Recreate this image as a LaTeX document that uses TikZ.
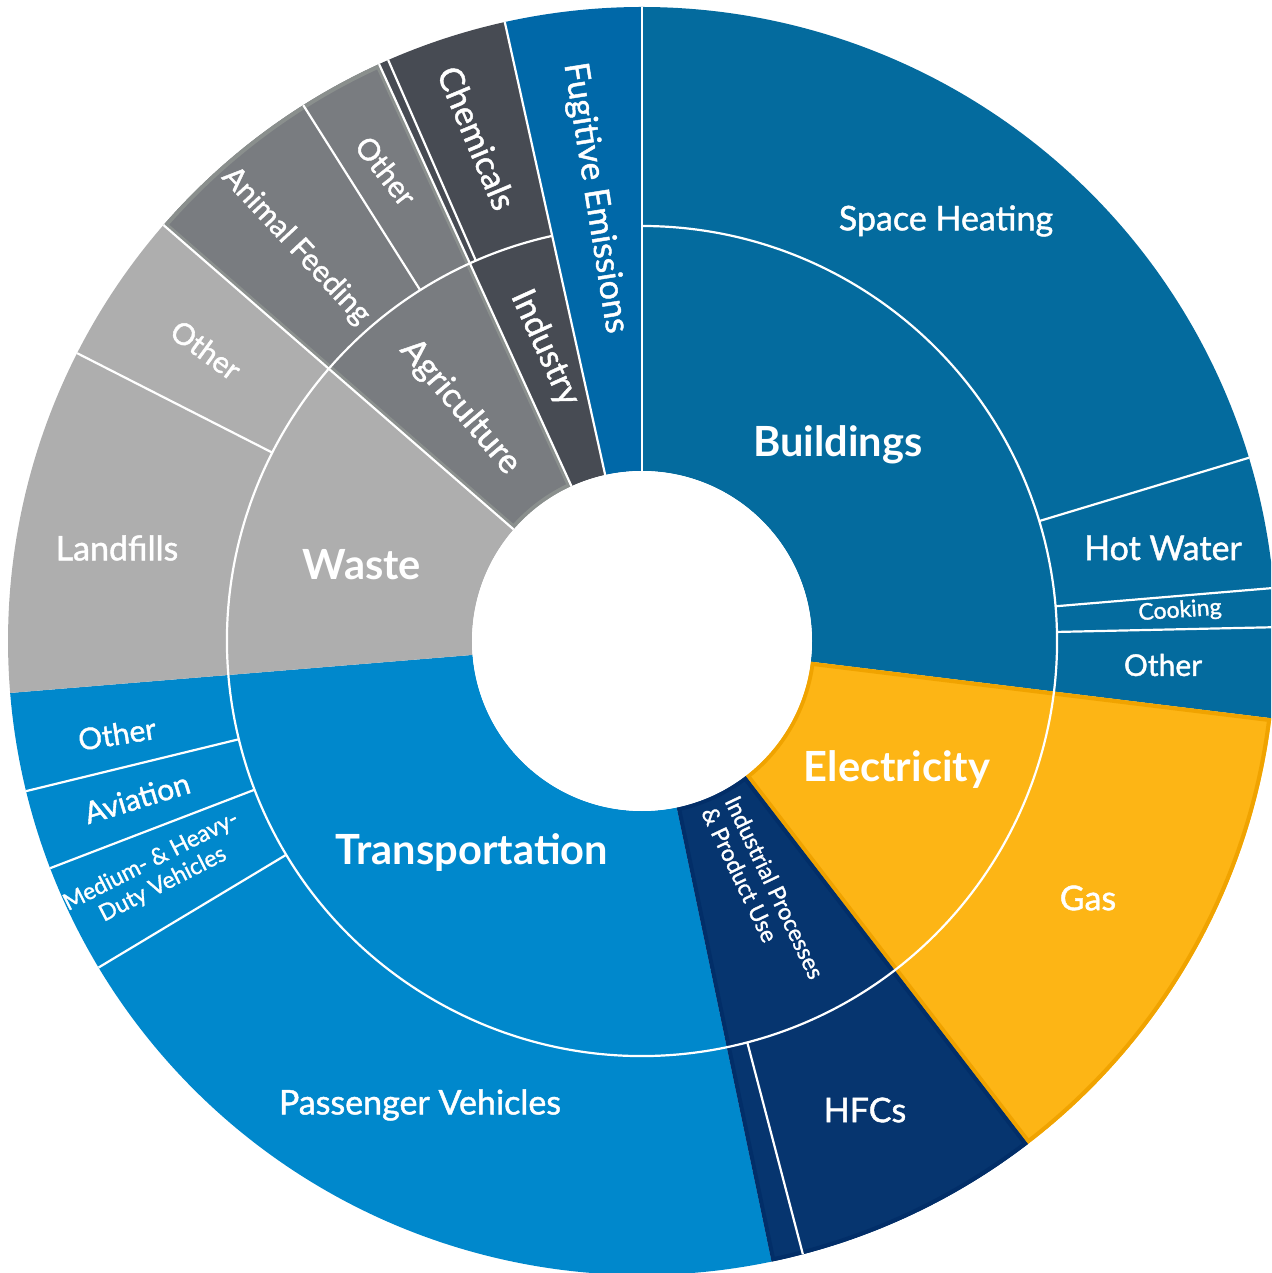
\documentclass[tikz,border=0pt]{standalone}
\usepackage{fontspec}
\setmainfont{Lato}
\newfontfamily\latomed{Lato}[FakeBold=1.3]
\definecolor{bld}{HTML}{046B9E}
\definecolor{fug}{HTML}{0068A8}
\definecolor{trans}{HTML}{0088CC}
\definecolor{elec}{HTML}{FDB515}
\definecolor{elecb}{HTML}{F0A300}
\definecolor{ippu}{HTML}{06356F}
\definecolor{ippub}{HTML}{022E68}
\definecolor{waste}{HTML}{AEAEAE}
\definecolor{agri}{HTML}{797C80}
\definecolor{agrib}{HTML}{8A8F8D}
\definecolor{indus}{HTML}{474B53}
\newcommand\wedgefill[5]{\fill[#1] (#4:#2) arc[start angle=#4,end angle=#5,radius=#2] -- (#5:#3) arc[start angle=#5,end angle=#4,radius=#3] -- cycle;}
\newcommand\wedgeband[5]{\begin{scope}\clip (#4:#2) arc[start angle=#4,end angle=#5,radius=#2] -- (#5:#3) arc[start angle=#5,end angle=#4,radius=#3] -- cycle;
\draw[#1,line width=4pt] (#4:#2) arc[start angle=#4,end angle=#5,radius=#2] -- (#5:#3) arc[start angle=#5,end angle=#4,radius=#3] -- cycle;\end{scope}}
\begin{document}
\begin{tikzpicture}[x=0.5pt,y=0.5pt,
  sep/.style={white,line width=1.1pt},
  lbl/.style={text=white,inner sep=0pt},
  big/.style={lbl,font=\fontsize{20.8pt}{22pt}\selectfont\bfseries},
  mid/.style={lbl,font=\fontsize{17pt}{18pt}\selectfont\latomed},
  sml/.style={lbl,font=\fontsize{15pt}{17pt}\selectfont\latomed},
  tiny/.style={lbl,font=\fontsize{11.5pt}{13pt}\selectfont\latomed}]
\useasboundingbox (-642,-632) rectangle (629,641);
\clip (-642,-632) rectangle (629,641);
% parent sectors (both rings)
\wedgefill{bld}{170}{634}{-7}{90}
\wedgefill{elec}{170}{634}{-52.5}{-7}
\wedgefill{ippu}{170}{634}{-78.2}{-52.5}
\wedgefill{trans}{170}{634}{184.7}{281.8}
\wedgefill{waste}{170}{634}{139}{184.7}
\wedgefill{agri}{170}{634}{114.5}{139}
\wedgefill{indus}{170}{634}{102.5}{114.5}
\wedgefill{fug}{170}{634}{90}{102.5}
% inner bands
\wedgeband{elecb}{170}{634}{-52.5}{-7}
\wedgeband{ippub}{170}{634}{-78.2}{-52.5}
\wedgeband{agrib}{170}{634}{114.5}{139}
% white separators
\draw[sep] (102.5:415) arc[start angle=102.5,end angle=450,radius=415];
\foreach \a in {90,102.5,114.5,139}{\draw[sep] (\a:170) -- (\a:634);}
\foreach \a in {113.6,122.3,153,193.7,201,211,-75.3,16.8,4.8,1.25}{\draw[sep] (\a:415) -- (\a:634);}
\fill[white] (0,0) circle[radius=170];
% labels
\node[big] (buildings) at (196,196) {Buildings};
\node[mid] (spaceheat) at (304,420) {Space Heating};
\node[mid] (hotwater) at (521,93) {Hot Water};
\node[tiny,rotate=4] (cooking) at (538,30) {Cooking};
\node[sml] (otherbld) at (521,-24) {Other};
\node[big] (electricity) at (255,-129) {Electricity};
\node[mid] (gas) at (446,-257) {Gas};
\node[mid] (hfcs) at (223,-469) {HFCs};
\node[tiny,rotate=-64.5,align=left] (ippu) at (121,-252) {Industrial Processes\\\& Product Use};
\node[big] (transport) at (-170,-212) {Transportation};
\node[mid] (passenger) at (-222,-464) {Passenger Vehicles};
\node[sml,rotate=9] (othertrans) at (-525,-93) {Other};
\node[sml,rotate=17] (aviation) at (-505,-157) {Aviation};
\node[tiny,rotate=27,align=center] (medium) at (-485,-232) {Medium- \& Heavy-\\Duty Vehicles};
\node[big] (wastelbl) at (-280,76) {Waste};
\node[mid] (landfills) at (-525,93) {Landfills};
\node[sml,rotate=-36] (otherwaste) at (-436,291) {Other};
\node[sml,rotate=-47] (animal) at (-346,395) {Animal Feeding};
\node[sml,rotate=-52] (otherag) at (-256,470) {Other};
\node[mid,rotate=-49.5] (agriculture) at (-182,234) {Agriculture};
\node[mid,rotate=-65.6] (industry) at (-97,293) {Industry};
\node[mid,rotate=-67.3] (chemicals) at (-165,503) {Chemicals};
\node[mid,rotate=-81] (fugitive) at (-47,443) {Fugitive Emissions};
\end{tikzpicture}
\end{document}
